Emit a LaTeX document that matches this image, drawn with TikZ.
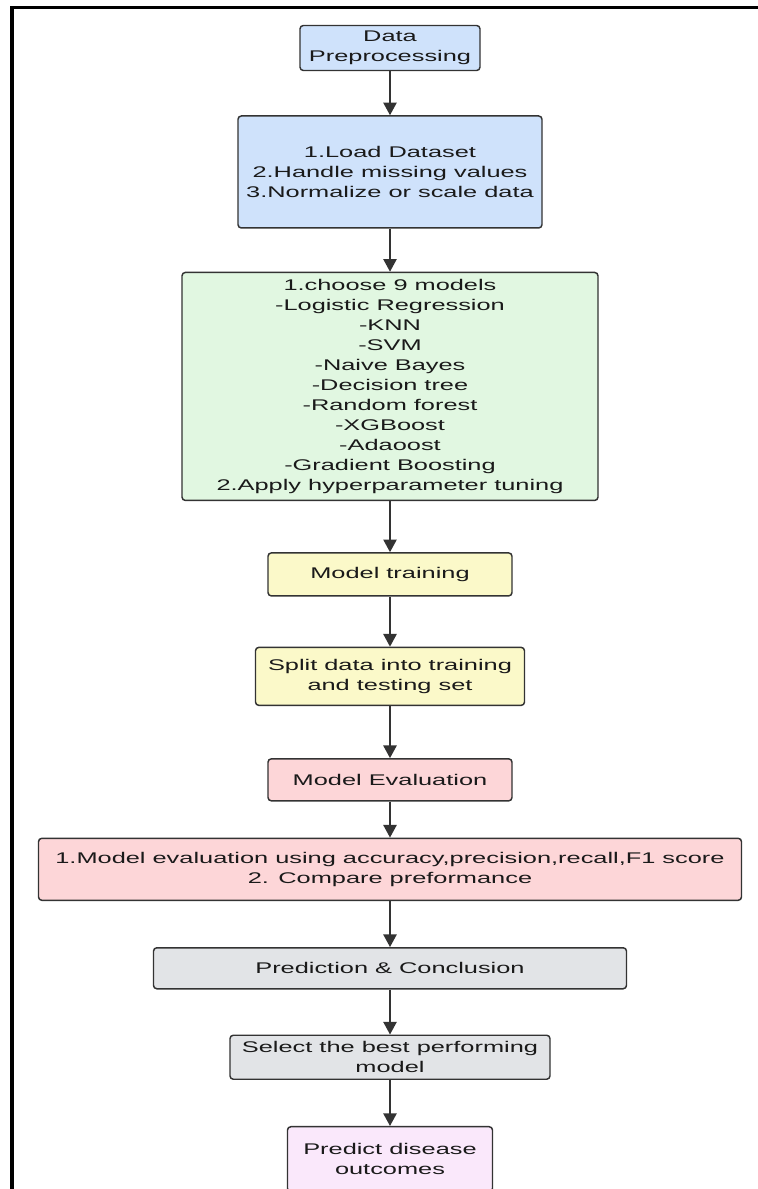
\documentclass[tikz,border=0pt]{standalone}
\usepackage{fontspec}
\setmainfont{Liberation Sans}[FakeStretch=1.64]
\usetikzlibrary{positioning,arrows.meta}

\definecolor{boxline}{HTML}{333333}
\definecolor{textcol}{HTML}{1A1A1A}
\definecolor{boxblue}{HTML}{CFE2FB}
\definecolor{boxgreen}{HTML}{E1F7E1}
\definecolor{boxyellow}{HTML}{FBF9C9}
\definecolor{boxpink}{HTML}{FDD6D8}
\definecolor{boxgray}{HTML}{E2E4E7}
\definecolor{boxlilac}{HTML}{FAE8FB}

\begin{document}
\begin{tikzpicture}[x=0.75pt,y=-0.75pt,font=\fontsize{11.6}{15}\selectfont]

\tikzset{BoxStyle/.style = {draw=boxline, line width=1.1pt, rounded corners=2.5pt,
    align=center, text=textcol, inner sep=2pt},
  ArrowStyle/.style = {draw=boxline, line width=1.2pt,
    -{Triangle[length=9.5pt,width=10pt]}}}

\useasboundingbox (0,0) rectangle (757,1189);
\draw[line width=2.4pt] (12,1195) -- (12,7.5) -- (765,7.5);

\node[BoxStyle, fill=boxblue, minimum width=135pt, minimum height=33.75pt] (prep) at (390,48) {Data\\Preprocessing};
\node[BoxStyle, fill=boxblue, minimum width=228pt, minimum height=84pt, below=33pt of prep] (load) {1.Load Dataset\\2.Handle missing values\\3.Normalize or scale data};
\node[BoxStyle, fill=boxgreen, minimum width=312pt, minimum height=171pt, below=32.25pt of load] (models) {1.choose 9 models\\-Logistic Regression\\-KNN\\-SVM\\-Naive Bayes\\-Decision tree\\-Random forest\\-XGBoost\\-Adaoost\\-Gradient Boosting\\2.Apply hyperparameter tuning};
\node[BoxStyle, fill=boxyellow, minimum width=183pt, minimum height=32.25pt, below=38.25pt of models] (train) {Model training};
\node[BoxStyle, fill=boxyellow, minimum width=201.75pt, minimum height=43.5pt, below=37.5pt of train] (split) {Split data into training\\and testing set};
\node[BoxStyle, fill=boxpink, minimum width=183pt, minimum height=31.5pt, below=39pt of split] (eval) {Model Evaluation};
\node[BoxStyle, fill=boxpink, minimum width=527.25pt, minimum height=46.5pt, below=27pt of eval] (metrics) {1.Model evaluation using accuracy,precision,recall,F1 score\\2. Compare preformance};
\node[BoxStyle, fill=boxgray, minimum width=354.75pt, minimum height=30.75pt, below=34.5pt of metrics] (pred) {Prediction \& Conclusion};
\node[BoxStyle, fill=boxgray, minimum width=240pt, minimum height=33pt, below=33.75pt of pred] (best) {Select the best performing\\model};
\node[BoxStyle, fill=boxlilac, minimum width=153.75pt, minimum height=48.75pt, below=34.5pt of best] (outcome) {Predict disease\\outcomes};

\draw[ArrowStyle] (prep) -- (load);
\draw[ArrowStyle] (load) -- (models);
\draw[ArrowStyle] (models) -- (train);
\draw[ArrowStyle] (train) -- (split);
\draw[ArrowStyle] (split) -- (eval);
\draw[ArrowStyle] (eval) -- (metrics);
\draw[ArrowStyle] (metrics) -- (pred);
\draw[ArrowStyle] (pred) -- (best);
\draw[ArrowStyle] (best) -- (outcome);

\end{tikzpicture}
\end{document}
